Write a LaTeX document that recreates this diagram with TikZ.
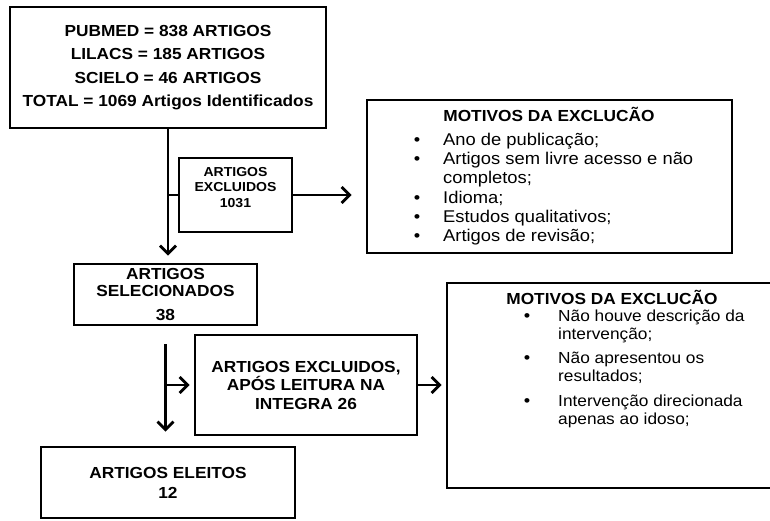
\documentclass[tikz,border=0pt]{standalone}
\usepackage{fontspec}
\setmainfont{Liberation Sans}[FakeStretch=1.08]
\usetikzlibrary{arrows.meta,positioning}

\tikzset{
  box/.style={draw, line width=2.8pt, inner sep=0pt, align=center, font=\bfseries\fontsize{16}{18.5}\selectfont},
  flow/.style={line width=2.8pt},
  arr/.style={flow, -{Straight Barb[length=8pt,width=16pt]}},
  titulo/.style={anchor=base, inner sep=0pt, font=\bfseries\fontsize{16}{18}\selectfont},
  motivo/.style={anchor=base west, inner sep=0pt, font=\fontsize{17}{19}\selectfont},
  motivob/.style={anchor=base west, inner sep=0pt, font=\fontsize{16}{18}\selectfont},
  marca/.style={anchor=base, inner sep=0pt, font=\fontsize{17}{18}\selectfont}
}

\begin{document}
\begin{tikzpicture}[x=1pt,y=-1pt]
\useasboundingbox (0,0) rectangle (770,520);

% caixas do fluxo
\node[box, minimum width=316pt, minimum height=121pt, font=\bfseries\fontsize{16}{23.3}\selectfont] (bases) at (168,67.5) {PUBMED = 838 ARTIGOS\\LILACS = 185 ARTIGOS\\SCIELO = 46 ARTIGOS\\TOTAL = 1069 Artigos Identificados};
\node[box, minimum width=113pt, minimum height=74pt, font=\bfseries\fontsize{13}{14.5}\selectfont] (excl1) at (235.5,195) {ARTIGOS\\EXCLUIDOS\\[2pt]1031\\};
\node[box, minimum width=365pt, minimum height=153pt] (motivos1) at (549.5,176.5) {};
\node[box, minimum width=183pt, minimum height=61pt, font=\bfseries\fontsize{16}{17}\selectfont] (selec) at (165.5,294.5) {ARTIGOS\\SELECIONADOS\\[7pt]38};
\node[box, minimum width=222pt, minimum height=100pt] (excl2) at (306,385) {ARTIGOS EXCLUIDOS,\\AP\'OS LEITURA NA\\INTEGRA 26};
\node[box, minimum width=328pt, minimum height=205pt] (motivos2) at (611,385.5) {};
\node[box, minimum width=254pt, minimum height=71pt, font=\bfseries\fontsize{16}{20}\selectfont] (eleitos) at (168,482.5) {ARTIGOS ELEITOS\\12};

% motivos da primeira exclusao
\node[titulo] (tit1) at (549,121) {MOTIVOS DA EXCLUC\~AO};
\node[motivo] (m1a) at (443,145) {Ano de publica\c{c}\~ao;};
\node[motivo] (m1b) at (443,164.3) {Artigos sem livre acesso e n\~ao};
\node[motivo] (m1c) at (443,183.6) {completos;};
\node[motivo] (m1d) at (443,203) {Idioma;};
\node[motivo] (m1e) at (443,222.2) {Estudos qualitativos;};
\node[motivo] (m1f) at (443,241.5) {Artigos de revis\~ao;};
\foreach \y [count=\i] in {145,164.3,203,222.2,241.5}
  \node[marca] (b1\i) at (417,\y) {\textbullet};

% motivos da segunda exclusao
\node[titulo] (tit2) at (612,304) {MOTIVOS DA EXCLUC\~AO};
\node[motivob] (m2a) at (558,321) {N\~ao houve descri\c{c}\~ao da};
\node[motivob] (m2b) at (558,339.5) {interven\c{c}\~ao;};
\node[motivob] (m2c) at (558,363) {N\~ao apresentou os};
\node[motivob] (m2d) at (558,381.5) {resultados;};
\node[motivob] (m2e) at (558,406) {Interven\c{c}\~ao direcionada};
\node[motivob] (m2f) at (558,424.5) {apenas ao idoso;};
\foreach \y [count=\i] in {321,363,406}
  \node[marca] (b2\i) at (527,\y) {\textbullet};

% ligacoes
\draw[arr, shorten >=7pt] (bases.south) -- (bases.south |- selec.north);
\draw[flow] (bases.south |- excl1.west) -- (excl1.west);
\draw[arr, shorten >=14pt] (excl1.east) -- (excl1.east -| motivos1.west);
\draw[arr, shorten <=18pt, shorten >=14pt] (selec.south) -- (selec.south |- eleitos.north);
\draw[arr, shorten >=4pt] (selec.south |- excl2.west) -- (excl2.west);
\draw[arr, shorten >=4pt] (excl2.east) -- (excl2.east -| motivos2.west);
\end{tikzpicture}
\end{document}
